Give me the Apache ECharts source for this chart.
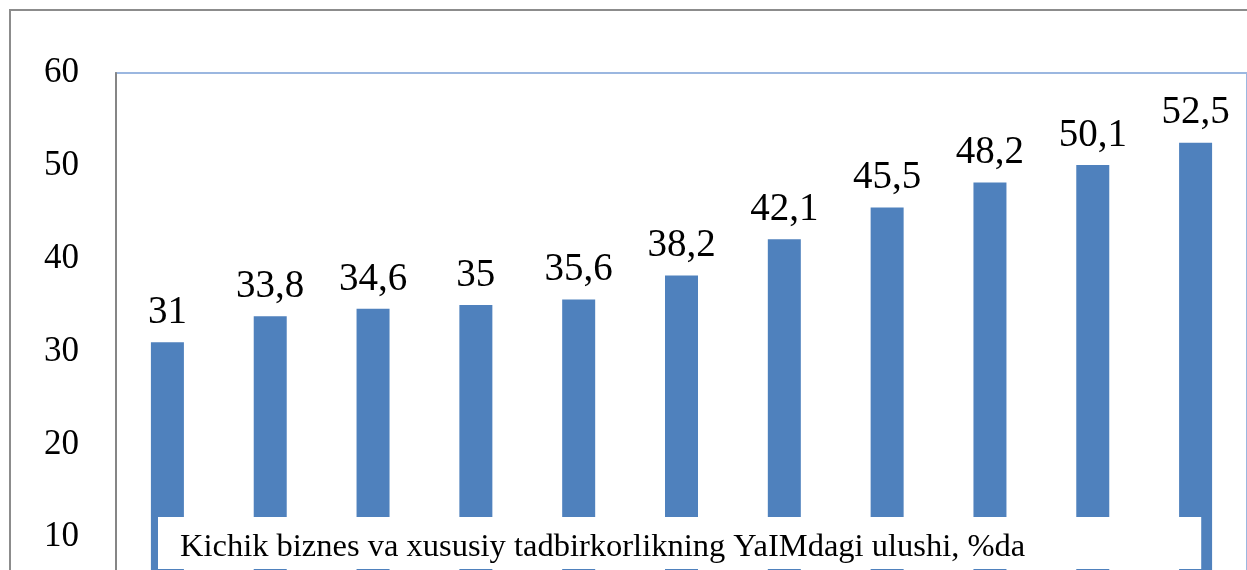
<!DOCTYPE html>
<html>
<head>
<meta charset="utf-8">
<script src="https://cdn.jsdelivr.net/npm/echarts@6/dist/echarts.min.js"></script>
<style>
	html, body { margin: 0; padding: 0; background: #fff; overflow: hidden; }
	#chart { width: 1247px; height: 700px; }
</style>
</head>
<body>
<div id="chart"></div>
<script>
	// Kichik biznes ulushi, YaIM dagi %
	var years = ['2000', '2001', '2002', '2003', '2004', '2005', '2006', '2007', '2008', '2009', '2010'];
	var shares = [31, 33.8, 34.6, 35, 35.6, 38.2, 42.1, 45.5, 48.2, 50.1, 52.5];
	var seriesName = 'Kichik biznes va xususiy tadbirkorlikning YaIMdagi ulushi, %da';

	var serif = '"Liberation Serif", "Times New Roman", serif';

	// the picture is only the upper part of a taller chart: 0 sits below the window
	var myChart = echarts.init(document.getElementById('chart'));
	var option = {
		animation: false,
		graphic: [{
			type: 'rect',
			z: 0,
			shape: { x: 10, y: 10, width: 1400, height: 800 },
			style: { fill: 'none', stroke: '#8c8c8c', lineWidth: 2 }
		}],
		grid: {
			left: 116,
			top: 73,
			right: 0,
			bottom: 70,
			show: true,
			borderColor: '#9bb7e0',
			borderWidth: 2
		},
		legend: {
			data: [seriesName],
			left: 158,
			top: 517,
			itemWidth: 0,
			itemHeight: 0,
			padding: [13, 176, 5, 17],
			backgroundColor: '#fff',
			textStyle: {
				fontFamily: serif,
				fontSize: 32.5,
				lineHeight: 34,
				color: '#000'
			}
		},
		xAxis: [{
			type: 'category',
			data: years,
			axisLine: { lineStyle: { color: '#868686', width: 2 } },
			axisTick: { show: false },
			axisLabel: { fontFamily: serif, fontSize: 30, color: '#000' }
		}],
		yAxis: [{
			type: 'value',
			min: 0,
			max: 60,
			interval: 10,
			splitLine: { show: false },
			axisLine: { show: true, lineStyle: { color: '#868686', width: 2 } },
			axisTick: { show: false },
			axisLabel: {
				margin: 37,
				padding: [6, 0, 0, 0],
				fontFamily: serif,
				fontSize: 35,
				color: '#000'
			}
		}],
		series: [{
			name: seriesName,
			type: 'bar',
			data: shares,
			barWidth: 33,
			itemStyle: { color: '#4f81bd' },
			label: {
				show: true,
				position: 'top',
				distance: 10,
				fontFamily: serif,
				fontSize: 39,
				color: '#000',
				formatter: function (p) {
					return String(p.value).replace('.', ',');
				}
			}
		}]
	};
	myChart.setOption(option);
</script>
</body>
</html>
